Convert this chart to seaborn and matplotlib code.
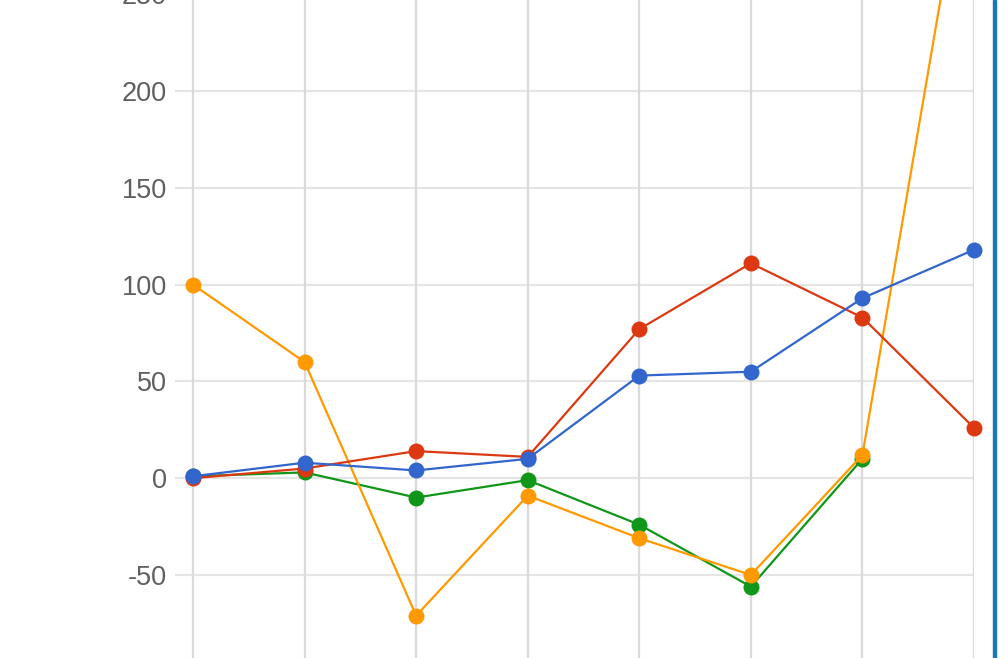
import matplotlib
matplotlib.use("Agg")
import matplotlib.pyplot as plt
import seaborn as sns
import pandas as pd
import numpy as np
from matplotlib.patches import Rectangle

# ---- data ----
x_pos = [0, 1, 2, 3, 4, 5, 6, 7]
blue_vals = [1, 8, 4, 10, 53, 55, 93, 118]
red_vals = [0, 5, 14, 11, 77, 111, 83, 26]
orange_vals = [100, 60, -71, -9, -31, -50, 12, 348]
green_vals = [1, 3, -10, -1, -24, -56, 10, np.nan]
y_ticks = [-50, 0, 50, 100, 150, 200, 250]

series = [
    ("green", green_vals, "#109618"),
    ("orange", orange_vals, "#ff9900"),
    ("red", red_vals, "#dc3912"),
    ("blue", blue_vals, "#3366cc"),
]

sns.set_theme(style="white")
plt.rcParams["font.family"] = ["Liberation Sans", "DejaVu Sans"]

W, H = 1006, 658
fig = plt.figure(figsize=(W / 100, H / 100), dpi=100)

# axes geometry (pixels)
left_px, right_px = 175, 974
x0_px = 193
ppu_x = (974 - 193) / 7.0
zero_px = 478.2
ppu_y = 1.936
y_bot_val = -(H - zero_px) / ppu_y
y_top_val = 270
top_px = zero_px - y_top_val * ppu_y

ax = fig.add_axes([left_px / W, 0, (right_px - left_px) / W, (H - top_px) / H])
ax.set_xlim(-(x0_px - left_px) / ppu_x, 7)
ax.set_ylim(y_bot_val, y_top_val)

for yt in y_ticks:
    ax.axhline(yt, color="#e5e5e5", lw=1.6, zorder=0)
for xp in x_pos:
    ax.axvline(xp, color="#dadada", lw=1.6, zorder=0)

for name, vals, col in series:
    df = pd.DataFrame({"x": x_pos, "y": vals})
    sns.lineplot(data=df, x="x", y="y", ax=ax, color=col, lw=1.6,
                 marker="o", markersize=11.5, markeredgewidth=0, zorder=3,
                 clip_on=False)

ax.set_yticks(y_ticks)
ax.set_yticklabels([str(v) for v in y_ticks])
ax.set_xticks([])
ax.tick_params(axis="y", length=0, pad=6, labelsize=19.5, labelcolor="#5f5f5f")
ax.set_xlabel("")
ax.set_ylabel("")
for s in ax.spines.values():
    s.set_visible(False)
ax.grid(False)

# right border bar
fig.add_artist(Rectangle((992.5 / W, 0), 3.5 / W, 1, transform=fig.transFigure,
                         color="#1a78b4", zorder=10))

fig.savefig("out.png", dpi=100)
